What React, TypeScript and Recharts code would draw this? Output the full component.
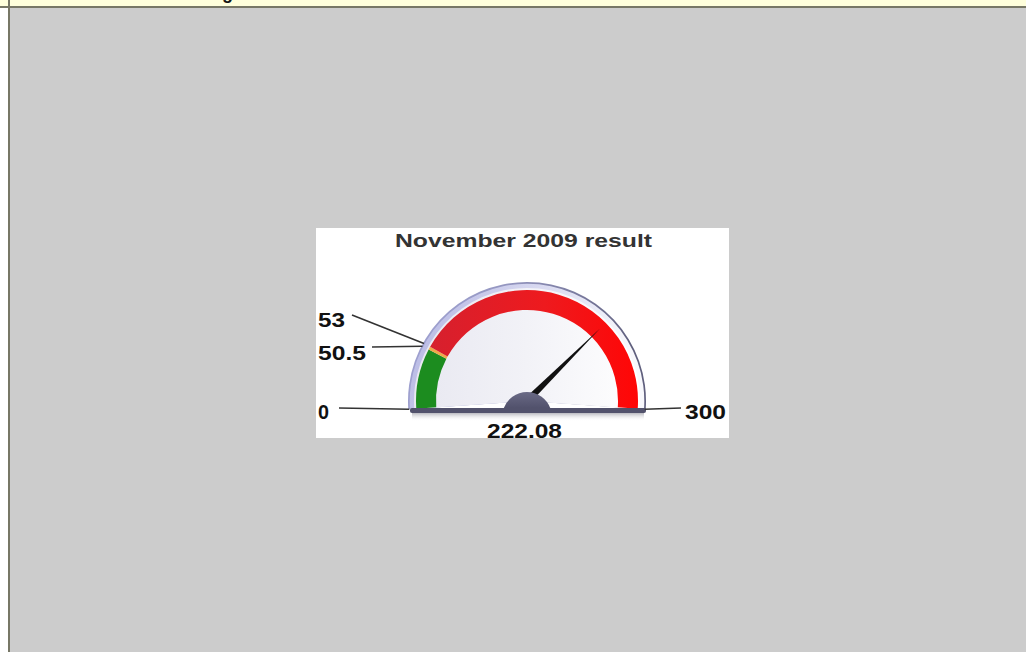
import React from 'react';
import { PieChart, Pie, Cell, Customized } from 'recharts';

// ---- data ----
const chartTitle = 'November 2009 result';
const gaugeMin = 0;
const gaugeMax = 300;
const segmentNames = ['good', 'warning', 'bad'];
const segmentValues = [50.5, 2.5, 247];
const segmentColors = ['#1c8c1f', '#f0a848', 'url(#redGrad)'];
const tickValues = [0, 50.5, 53, 300];
const tickLabels = ['0', '50.5', '53', '300'];
const needleValue = 222.08;
const needleLabel = '222.08';

// ---- layout ----
const W = 1026;
const H = 652;
const CX = 527;
const CY = 401;
const START_ANGLE = 184;
const END_ANGLE = -4;

const segmentData = segmentNames.map((name, i) => ({ name, value: segmentValues[i] }));
const single = [{ name: 'all', value: gaugeMax - gaugeMin }];

const angleOf = (v: number) =>
  START_ANGLE - ((v - gaugeMin) / (gaugeMax - gaugeMin)) * (START_ANGLE - END_ANGLE);
const polar = (r: number, deg: number) => {
  const rad = (deg * Math.PI) / 180;
  return { x: CX + r * Math.cos(rad), y: CY - r * Math.sin(rad) };
};

const FONT = "'Liberation Sans', Arial, Helvetica, sans-serif";

// label anchor positions (text x, baseline y, text width, leader line start)
const labelLayout: Record<string, { x: number; y: number; w: number; lx: number; ly: number }> = {
  '0': { x: 318, y: 419, w: 11, lx: 339, ly: 408 },
  '50.5': { x: 318, y: 360, w: 48, lx: 372, ly: 347 },
  '53': { x: 318, y: 327, w: 27, lx: 352, ly: 315 },
  '300': { x: 685, y: 419, w: 41, lx: 681, ly: 408 },
};

const Overlay = () => {
  const a = angleOf(needleValue);
  const tip = polar(103, a);
  const perp = ((a + 90) * Math.PI) / 180;
  const hw = 3.4;
  const b1 = { x: CX + hw * Math.cos(perp), y: CY - hw * Math.sin(perp) };
  const b2 = { x: CX - hw * Math.cos(perp), y: CY + hw * Math.sin(perp) };
  const hubR = 25;
  const hubCy = 417;
  const chordY = 409;
  const half = Math.sqrt(hubR * hubR - (hubCy - chordY) * (hubCy - chordY));
  return (
    <g>
      <defs>
        <linearGradient id="shadowGrad" x1="0" y1="0" x2="0" y2="1">
          <stop offset="0" stopColor="#a8a8b0" stopOpacity={0.8} />
          <stop offset="1" stopColor="#ffffff" stopOpacity={0} />
        </linearGradient>
        <linearGradient id="hubGrad" x1="0" y1="0" x2="0" y2="1">
          <stop offset="0" stopColor="#6a6a86" />
          <stop offset="1" stopColor="#50506a" />
        </linearGradient>
      </defs>
      {/* needle */}
      <polygon
        points={`${tip.x},${tip.y} ${b1.x},${b1.y} ${b2.x},${b2.y}`}
        fill="#111111"
      />
      {/* hub */}
      <path
        d={`M ${CX - half} ${chordY} A ${hubR} ${hubR} 0 0 1 ${CX + half} ${chordY} Z`}
        fill="url(#hubGrad)"
      />
      {/* base bar + shadow */}
      <rect x={412} y={413} width={232} height={8} fill="url(#shadowGrad)" />
      <rect x={410} y={408} width={236} height={5} rx={2} fill="#52526c" />
      {/* leader lines and labels */}
      {tickValues.map((v, i) => {
        const lab = tickLabels[i];
        const l = labelLayout[lab];
        const p = polar(118, angleOf(v));
        return (
          <g key={lab}>
            <line x1={l.lx} y1={l.ly} x2={p.x} y2={p.y} stroke="#333333" strokeWidth={1.6} />
            <text
              x={l.x}
              y={l.y}
              fontFamily={FONT}
              fontWeight="bold"
              fontSize={20}
              fill="#111111"
              textLength={l.w}
              lengthAdjust="spacingAndGlyphs"
            >
              {lab}
            </text>
          </g>
        );
      })}
      <text
        x={487}
        y={438}
        fontFamily={FONT}
        fontWeight="bold"
        fontSize={20}
        fill="#111111"
        textLength={75}
        lengthAdjust="spacingAndGlyphs"
      >
        {needleLabel}
      </text>
      <text
        x={395}
        y={247}
        fontFamily={FONT}
        fontWeight="bold"
        fontSize={18.5}
        fill="#333333"
        textLength={257}
        lengthAdjust="spacingAndGlyphs"
      >
        {chartTitle}
      </text>
    </g>
  );
};

const Defs = () => (
  <defs>
    <linearGradient id="redGrad" x1="0" y1="0" x2="1" y2="0">
      <stop offset="0" stopColor="#d6202e" />
      <stop offset="0.55" stopColor="#ee1a1e" />
      <stop offset="1" stopColor="#ff0606" />
    </linearGradient>
    <linearGradient id="outlineGrad" x1="0" y1="0" x2="1" y2="0.2">
      <stop offset="0" stopColor="#a4a6d8" />
      <stop offset="0.4" stopColor="#9496c0" />
      <stop offset="1" stopColor="#60607e" />
    </linearGradient>
    <linearGradient id="bezelGrad" x1="0" y1="0" x2="1" y2="0.2">
      <stop offset="0" stopColor="#b2b4e2" />
      <stop offset="0.45" stopColor="#d2d3ee" />
      <stop offset="1" stopColor="#f8f8fc" />
    </linearGradient>
    <linearGradient id="faceGrad" x1="0" y1="0" x2="1" y2="0">
      <stop offset="0" stopColor="#e8e8f1" />
      <stop offset="0.5" stopColor="#f2f2f7" />
      <stop offset="1" stopColor="#ffffff" />
    </linearGradient>
  </defs>
);

export default function App() {
  return (
    <div
      style={{
        position: 'absolute',
        left: 0,
        top: 0,
        width: W,
        height: H,
        background: '#ffffff',
        overflow: 'hidden',
      }}
    >
      {/* top strip */}
      <div style={{ position: 'absolute', left: 0, top: 0, width: W, height: 6, background: '#ffffdc' }} />
      <div style={{ position: 'absolute', left: 0, top: 6, width: W, height: 2, background: '#777766' }} />
      {/* left border */}
      <div style={{ position: 'absolute', left: 8, top: 0, width: 2, height: H, background: '#777766' }} />
      {/* gray panel */}
      <div style={{ position: 'absolute', left: 10, top: 8, width: W - 10, height: H - 8, background: '#cccccc' }} />
      {/* white chart box */}
      <div style={{ position: 'absolute', left: 316, top: 228, width: 413, height: 210, background: '#ffffff' }} />
      {/* cut-off glyph at top */}
      <div
        style={{
          position: 'absolute',
          left: 222,
          top: -17,
          fontFamily: FONT,
          fontWeight: 'bold',
          fontSize: 18,
          lineHeight: '20px',
          color: '#111',
          clipPath: 'inset(15px 0 0 0)',
        }}
      >
        g
      </div>
      <div style={{ position: 'absolute', left: 0, top: 0 }}>
        <PieChart width={W} height={H} margin={{ top: 0, right: 0, bottom: 0, left: 0 }}>
          <Customized component={Defs} />
          <Pie
            data={single}
            dataKey="value"
            cx={CX}
            cy={CY}
            innerRadius={0}
            outerRadius={119}
            startAngle={START_ANGLE}
            endAngle={END_ANGLE}
            fill="url(#outlineGrad)"
            stroke="none"
            isAnimationActive={false}
          />
          <Pie
            data={single}
            dataKey="value"
            cx={CX}
            cy={CY}
            innerRadius={0}
            outerRadius={117.3}
            startAngle={START_ANGLE}
            endAngle={END_ANGLE}
            fill="url(#bezelGrad)"
            stroke="none"
            isAnimationActive={false}
          />
          <Pie
            data={single}
            dataKey="value"
            cx={CX}
            cy={CY}
            innerRadius={0}
            outerRadius={113}
            startAngle={START_ANGLE}
            endAngle={END_ANGLE}
            fill="url(#faceGrad)"
            stroke="none"
            isAnimationActive={false}
          />
          <Pie
            data={segmentData}
            dataKey="value"
            cx={CX}
            cy={CY}
            innerRadius={91}
            outerRadius={111}
            startAngle={START_ANGLE}
            endAngle={END_ANGLE}
            stroke="none"
            isAnimationActive={false}
          >
            {segmentData.map((d, i) => (
              <Cell key={d.name} fill={segmentColors[i]} />
            ))}
          </Pie>
        </PieChart>
      </div>
      <div style={{ position: 'absolute', left: 0, top: 0 }}>
        <PieChart width={W} height={H} margin={{ top: 0, right: 0, bottom: 0, left: 0 }}>
          <Customized component={Overlay} />
        </PieChart>
      </div>
    </div>
  );
}
